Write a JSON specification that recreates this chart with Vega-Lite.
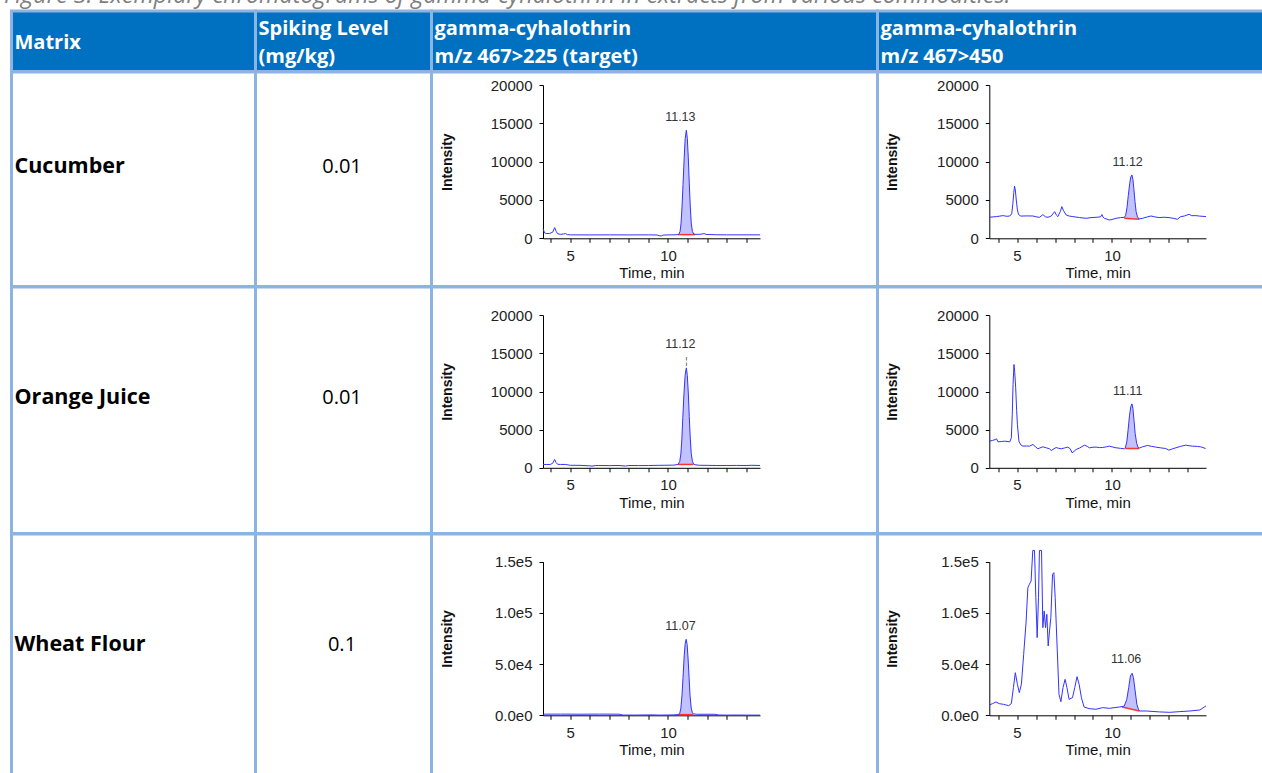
{
"$schema": "https://vega.github.io/schema/vega-lite/v6.json",
"background": "white",
"padding": {"left": 3.5, "top": -17, "right": -15, "bottom": -8},
"title": {"text": "Figure 3: Exemplary chromatograms of gamma-cyhalothrin in extracts from various commodities.", "anchor": "start", "font": "Open Sans", "fontSize": 23.4, "fontStyle": "italic", "fontWeight": "normal", "color": "#7f7f7f", "baseline": "alphabetic", "offset": -16.5, "dx": -6},
"columns": 4,
"align": "each",
"spacing": 0,
"bounds": "flush",
"datasets": {
"header": [
{"c": 1, "h": "Matrix"},
{"c": 2, "h": "Spiking Level\n(mg/kg)"},
{"c": 3, "h": "gamma-cyhalothrin\nm/z 467>225 (target)"},
{"c": 4, "h": "gamma-cyhalothrin\nm/z 467>450"}
],
"table": [
{"r": 1, "m": "Cucumber", "s": "0.01"},
{"r": 2, "m": "Orange Juice", "s": "0.01"},
{"r": 3, "m": "Wheat Flour", "s": "0.1"}
],
"trace": [
{"p":"c3","t":3.61,"v":1250},{"p":"c3","t":3.68,"v":700},{"p":"c3","t":3.8,"v":620},{"p":"c3","t":3.95,"v":640},{"p":"c3","t":4.1,"v":800},{"p":"c3","t":4.2,"v":1400},{"p":"c3","t":4.28,"v":900},{"p":"c3","t":4.35,"v":600},{"p":"c3","t":4.5,"v":520},{"p":"c3","t":4.65,"v":560},{"p":"c3","t":4.75,"v":620},{"p":"c3","t":4.85,"v":480},{"p":"c3","t":5.0,"v":450},{"p":"c3","t":6.0,"v":440},{"p":"c3","t":7.0,"v":450},{"p":"c3","t":8.0,"v":440},{"p":"c3","t":9.0,"v":450},{"p":"c3","t":9.45,"v":430},{"p":"c3","t":9.55,"v":350},{"p":"c3","t":9.65,"v":300},{"p":"c3","t":9.75,"v":420},{"p":"c3","t":10.0,"v":440},{"p":"c3","t":10.3,"v":450},{"p":"c3","t":10.51,"v":480},{"p":"c3","t":10.55,"v":500},{"p":"c3","t":10.62,"v":900},{"p":"c3","t":10.67,"v":2000},{"p":"c3","t":10.72,"v":4200},{"p":"c3","t":10.77,"v":7000},{"p":"c3","t":10.83,"v":10500},{"p":"c3","t":10.88,"v":13000},{"p":"c3","t":10.94,"v":14100},{"p":"c3","t":10.99,"v":13000},{"p":"c3","t":11.04,"v":10500},{"p":"c3","t":11.09,"v":7200},{"p":"c3","t":11.14,"v":4200},{"p":"c3","t":11.19,"v":2000},{"p":"c3","t":11.25,"v":900},{"p":"c3","t":11.32,"v":560},{"p":"c3","t":11.4,"v":520},{"p":"c3","t":11.6,"v":520},{"p":"c3","t":11.75,"v":560},{"p":"c3","t":11.85,"v":620},{"p":"c3","t":11.95,"v":500},{"p":"c3","t":12.5,"v":460},{"p":"c3","t":13.0,"v":450},{"p":"c3","t":14.0,"v":450},{"p":"c3","t":14.71,"v":450},
{"p":"c4","t":3.54,"v":2740},{"p":"c4","t":3.75,"v":2800},{"p":"c4","t":3.92,"v":2830},{"p":"c4","t":4.1,"v":2900},{"p":"c4","t":4.27,"v":2960},{"p":"c4","t":4.45,"v":2870},{"p":"c4","t":4.62,"v":2910},{"p":"c4","t":4.72,"v":3200},{"p":"c4","t":4.78,"v":4500},{"p":"c4","t":4.83,"v":6000},{"p":"c4","t":4.87,"v":6800},{"p":"c4","t":4.91,"v":6300},{"p":"c4","t":4.96,"v":5000},{"p":"c4","t":5.02,"v":3700},{"p":"c4","t":5.08,"v":3100},{"p":"c4","t":5.2,"v":2900},{"p":"c4","t":5.5,"v":2920},{"p":"c4","t":5.84,"v":2910},{"p":"c4","t":6.0,"v":2800},{"p":"c4","t":6.19,"v":2740},{"p":"c4","t":6.36,"v":3090},{"p":"c4","t":6.5,"v":2800},{"p":"c4","t":6.63,"v":2740},{"p":"c4","t":6.8,"v":2900},{"p":"c4","t":6.98,"v":3480},{"p":"c4","t":7.08,"v":3000},{"p":"c4","t":7.15,"v":2830},{"p":"c4","t":7.28,"v":3500},{"p":"c4","t":7.36,"v":4130},{"p":"c4","t":7.45,"v":3600},{"p":"c4","t":7.59,"v":3040},{"p":"c4","t":7.75,"v":2900},{"p":"c4","t":7.94,"v":2830},{"p":"c4","t":8.3,"v":2700},{"p":"c4","t":8.64,"v":2610},{"p":"c4","t":8.9,"v":2700},{"p":"c4","t":9.16,"v":2740},{"p":"c4","t":9.4,"v":2800},{"p":"c4","t":9.47,"v":3100},{"p":"c4","t":9.52,"v":2800},{"p":"c4","t":9.6,"v":2610},{"p":"c4","t":9.86,"v":2390},{"p":"c4","t":10.0,"v":2450},{"p":"c4","t":10.21,"v":2610},{"p":"c4","t":10.45,"v":2700},{"p":"c4","t":10.65,"v":2740},{"p":"c4","t":10.72,"v":3000},{"p":"c4","t":10.79,"v":4000},{"p":"c4","t":10.86,"v":5600},{"p":"c4","t":10.93,"v":7100},{"p":"c4","t":10.99,"v":8000},{"p":"c4","t":11.05,"v":8260},{"p":"c4","t":11.1,"v":7700},{"p":"c4","t":11.15,"v":6500},{"p":"c4","t":11.21,"v":4800},{"p":"c4","t":11.27,"v":3500},{"p":"c4","t":11.34,"v":2800},{"p":"c4","t":11.43,"v":2520},{"p":"c4","t":11.61,"v":2610},{"p":"c4","t":11.8,"v":2750},{"p":"c4","t":12.05,"v":2910},{"p":"c4","t":12.25,"v":2800},{"p":"c4","t":12.48,"v":2700},{"p":"c4","t":12.75,"v":2750},{"p":"c4","t":13.0,"v":2700},{"p":"c4","t":13.25,"v":2600},{"p":"c4","t":13.44,"v":2480},{"p":"c4","t":13.62,"v":2830},{"p":"c4","t":13.8,"v":2900},{"p":"c4","t":14.06,"v":3130},{"p":"c4","t":14.2,"v":2950},{"p":"c4","t":14.41,"v":2960},{"p":"c4","t":14.6,"v":2900},{"p":"c4","t":14.95,"v":2830},
{"p":"o3","t":3.61,"v":440},{"p":"o3","t":3.8,"v":430},{"p":"o3","t":3.98,"v":440},{"p":"o3","t":4.1,"v":600},{"p":"o3","t":4.2,"v":1090},{"p":"o3","t":4.27,"v":700},{"p":"o3","t":4.35,"v":460},{"p":"o3","t":4.5,"v":440},{"p":"o3","t":4.74,"v":440},{"p":"o3","t":5.0,"v":330},{"p":"o3","t":5.5,"v":320},{"p":"o3","t":6.0,"v":260},{"p":"o3","t":6.11,"v":220},{"p":"o3","t":6.3,"v":300},{"p":"o3","t":6.45,"v":300},{"p":"o3","t":7.0,"v":290},{"p":"o3","t":7.5,"v":300},{"p":"o3","t":7.82,"v":230},{"p":"o3","t":8.0,"v":300},{"p":"o3","t":8.5,"v":290},{"p":"o3","t":9.0,"v":300},{"p":"o3","t":9.5,"v":320},{"p":"o3","t":10.0,"v":340},{"p":"o3","t":10.3,"v":350},{"p":"o3","t":10.51,"v":440},{"p":"o3","t":10.6,"v":800},{"p":"o3","t":10.66,"v":1800},{"p":"o3","t":10.71,"v":3800},{"p":"o3","t":10.76,"v":6600},{"p":"o3","t":10.82,"v":9800},{"p":"o3","t":10.88,"v":12200},{"p":"o3","t":10.94,"v":13100},{"p":"o3","t":10.99,"v":12100},{"p":"o3","t":11.04,"v":9800},{"p":"o3","t":11.09,"v":6700},{"p":"o3","t":11.14,"v":3900},{"p":"o3","t":11.19,"v":1900},{"p":"o3","t":11.25,"v":850},{"p":"o3","t":11.31,"v":500},{"p":"o3","t":11.38,"v":400},{"p":"o3","t":11.6,"v":330},{"p":"o3","t":12.0,"v":320},{"p":"o3","t":12.5,"v":300},{"p":"o3","t":13.0,"v":300},{"p":"o3","t":13.5,"v":310},{"p":"o3","t":14.0,"v":300},{"p":"o3","t":14.3,"v":330},{"p":"o3","t":14.71,"v":300},
{"p":"o4","t":3.54,"v":3490},{"p":"o4","t":3.7,"v":3580},{"p":"o4","t":3.85,"v":3700},{"p":"o4","t":3.92,"v":3800},{"p":"o4","t":4.0,"v":3400},{"p":"o4","t":4.2,"v":3450},{"p":"o4","t":4.35,"v":3490},{"p":"o4","t":4.62,"v":3400},{"p":"o4","t":4.7,"v":3930},{"p":"o4","t":4.75,"v":7000},{"p":"o4","t":4.79,"v":10900},{"p":"o4","t":4.84,"v":13540},{"p":"o4","t":4.88,"v":12500},{"p":"o4","t":4.93,"v":10480},{"p":"o4","t":4.98,"v":7500},{"p":"o4","t":5.02,"v":5680},{"p":"o4","t":5.1,"v":3490},{"p":"o4","t":5.2,"v":3000},{"p":"o4","t":5.31,"v":2840},{"p":"o4","t":5.5,"v":2860},{"p":"o4","t":5.66,"v":2840},{"p":"o4","t":5.84,"v":3060},{"p":"o4","t":5.95,"v":2800},{"p":"o4","t":6.1,"v":2490},{"p":"o4","t":6.2,"v":2600},{"p":"o4","t":6.36,"v":2750},{"p":"o4","t":6.54,"v":2620},{"p":"o4","t":6.7,"v":2500},{"p":"o4","t":6.8,"v":2270},{"p":"o4","t":6.95,"v":2500},{"p":"o4","t":7.06,"v":2660},{"p":"o4","t":7.2,"v":2550},{"p":"o4","t":7.33,"v":2490},{"p":"o4","t":7.5,"v":2600},{"p":"o4","t":7.67,"v":2710},{"p":"o4","t":7.8,"v":2500},{"p":"o4","t":7.9,"v":1970},{"p":"o4","t":8.0,"v":2150},{"p":"o4","t":8.11,"v":2400},{"p":"o4","t":8.3,"v":2600},{"p":"o4","t":8.55,"v":2970},{"p":"o4","t":8.7,"v":2800},{"p":"o4","t":8.81,"v":2620},{"p":"o4","t":9.0,"v":2700},{"p":"o4","t":9.16,"v":2710},{"p":"o4","t":9.35,"v":2650},{"p":"o4","t":9.51,"v":2660},{"p":"o4","t":9.7,"v":2750},{"p":"o4","t":9.86,"v":2840},{"p":"o4","t":10.0,"v":2750},{"p":"o4","t":10.21,"v":2620},{"p":"o4","t":10.45,"v":2550},{"p":"o4","t":10.65,"v":2490},{"p":"o4","t":10.7,"v":2600},{"p":"o4","t":10.78,"v":3400},{"p":"o4","t":10.85,"v":5000},{"p":"o4","t":10.92,"v":6800},{"p":"o4","t":10.99,"v":8000},{"p":"o4","t":11.05,"v":8380},{"p":"o4","t":11.1,"v":7800},{"p":"o4","t":11.16,"v":6200},{"p":"o4","t":11.22,"v":4500},{"p":"o4","t":11.3,"v":3200},{"p":"o4","t":11.38,"v":2650},{"p":"o4","t":11.45,"v":2600},{"p":"o4","t":11.61,"v":2750},{"p":"o4","t":11.87,"v":2930},{"p":"o4","t":12.1,"v":2800},{"p":"o4","t":12.31,"v":2710},{"p":"o4","t":12.6,"v":2600},{"p":"o4","t":12.83,"v":2530},{"p":"o4","t":13.0,"v":2310},{"p":"o4","t":13.2,"v":2500},{"p":"o4","t":13.36,"v":2620},{"p":"o4","t":13.6,"v":2800},{"p":"o4","t":13.88,"v":2970},{"p":"o4","t":14.05,"v":2900},{"p":"o4","t":14.23,"v":2840},{"p":"o4","t":14.5,"v":2800},{"p":"o4","t":14.67,"v":2750},{"p":"o4","t":14.93,"v":2530},
{"p":"w3","t":3.61,"v":1100},{"p":"w3","t":4.5,"v":1150},{"p":"w3","t":5.5,"v":1050},{"p":"w3","t":6.5,"v":1150},{"p":"w3","t":7.5,"v":1100},{"p":"w3","t":7.6,"v":600},{"p":"w3","t":7.7,"v":200},{"p":"w3","t":8.0,"v":250},{"p":"w3","t":8.3,"v":200},{"p":"w3","t":8.7,"v":300},{"p":"w3","t":9.2,"v":400},{"p":"w3","t":9.4,"v":300},{"p":"w3","t":9.6,"v":200},{"p":"w3","t":10.0,"v":300},{"p":"w3","t":10.3,"v":400},{"p":"w3","t":10.52,"v":700},{"p":"w3","t":10.6,"v":1500},{"p":"w3","t":10.66,"v":7000},{"p":"w3","t":10.72,"v":20000},{"p":"w3","t":10.77,"v":37000},{"p":"w3","t":10.83,"v":58000},{"p":"w3","t":10.88,"v":70000},{"p":"w3","t":10.93,"v":74200},{"p":"w3","t":10.98,"v":69000},{"p":"w3","t":11.03,"v":55000},{"p":"w3","t":11.08,"v":37000},{"p":"w3","t":11.13,"v":19000},{"p":"w3","t":11.19,"v":7000},{"p":"w3","t":11.25,"v":2500},{"p":"w3","t":11.3,"v":1300},{"p":"w3","t":11.5,"v":1000},{"p":"w3","t":12.0,"v":1000},{"p":"w3","t":12.4,"v":1000},{"p":"w3","t":12.6,"v":300},{"p":"w3","t":13.0,"v":200},{"p":"w3","t":13.5,"v":250},{"p":"w3","t":14.0,"v":200},{"p":"w3","t":14.71,"v":200},
{"p":"w4","t":3.54,"v":10100},{"p":"w4","t":3.71,"v":11400},{"p":"w4","t":3.89,"v":13000},{"p":"w4","t":4.06,"v":11400},{"p":"w4","t":4.29,"v":10700},{"p":"w4","t":4.56,"v":9400},{"p":"w4","t":4.7,"v":11400},{"p":"w4","t":4.81,"v":27000},{"p":"w4","t":4.91,"v":41600},{"p":"w4","t":5.02,"v":30300},{"p":"w4","t":5.12,"v":22100},{"p":"w4","t":5.23,"v":30300},{"p":"w4","t":5.35,"v":59500},{"p":"w4","t":5.48,"v":92100},{"p":"w4","t":5.57,"v":124600},{"p":"w4","t":5.65,"v":127900},{"p":"w4","t":5.74,"v":131100},{"p":"w4","t":5.83,"v":161000},{"p":"w4","t":5.92,"v":161000},{"p":"w4","t":5.99,"v":114900},{"p":"w4","t":6.06,"v":75800},{"p":"w4","t":6.13,"v":114900},{"p":"w4","t":6.18,"v":161000},{"p":"w4","t":6.29,"v":161000},{"p":"w4","t":6.36,"v":85600},{"p":"w4","t":6.43,"v":101900},{"p":"w4","t":6.5,"v":85600},{"p":"w4","t":6.57,"v":98600},{"p":"w4","t":6.64,"v":67700},{"p":"w4","t":6.71,"v":82300},{"p":"w4","t":6.78,"v":95300},{"p":"w4","t":6.87,"v":137600},{"p":"w4","t":6.94,"v":139300},{"p":"w4","t":7.01,"v":114900},{"p":"w4","t":7.12,"v":62800},{"p":"w4","t":7.21,"v":20500},{"p":"w4","t":7.31,"v":13300},{"p":"w4","t":7.42,"v":27000},{"p":"w4","t":7.53,"v":35100},{"p":"w4","t":7.63,"v":27000},{"p":"w4","t":7.74,"v":15600},{"p":"w4","t":7.92,"v":17200},{"p":"w4","t":8.04,"v":27000},{"p":"w4","t":8.16,"v":37700},{"p":"w4","t":8.27,"v":30300},{"p":"w4","t":8.39,"v":17200},{"p":"w4","t":8.53,"v":8100},{"p":"w4","t":8.8,"v":6500},{"p":"w4","t":9.15,"v":5900},{"p":"w4","t":9.51,"v":7500},{"p":"w4","t":9.86,"v":6800},{"p":"w4","t":10.39,"v":8100},{"p":"w4","t":10.53,"v":8500},{"p":"w4","t":10.65,"v":9100},{"p":"w4","t":10.78,"v":15600},{"p":"w4","t":10.88,"v":27000},{"p":"w4","t":10.97,"v":38400},{"p":"w4","t":11.06,"v":41000},{"p":"w4","t":11.13,"v":36800},{"p":"w4","t":11.22,"v":23800},{"p":"w4","t":11.31,"v":10700},{"p":"w4","t":11.4,"v":5500},{"p":"w4","t":11.45,"v":4200},{"p":"w4","t":11.8,"v":4200},{"p":"w4","t":12.51,"v":3300},{"p":"w4","t":13.04,"v":2900},{"p":"w4","t":13.57,"v":3600},{"p":"w4","t":14.1,"v":4200},{"p":"w4","t":14.63,"v":5200},{"p":"w4","t":14.89,"v":8500},{"p":"w4","t":14.95,"v":9200}
],
"peak": [
{"p":"c3","t":10.51,"v":480,"b":480},{"p":"c3","t":10.55,"v":500,"b":480},{"p":"c3","t":10.62,"v":900,"b":480},{"p":"c3","t":10.67,"v":2000,"b":480},{"p":"c3","t":10.72,"v":4200,"b":480},{"p":"c3","t":10.77,"v":7000,"b":480},{"p":"c3","t":10.83,"v":10500,"b":480},{"p":"c3","t":10.88,"v":13000,"b":480},{"p":"c3","t":10.94,"v":14100,"b":480},{"p":"c3","t":10.99,"v":13000,"b":480},{"p":"c3","t":11.04,"v":10500,"b":480},{"p":"c3","t":11.09,"v":7200,"b":480},{"p":"c3","t":11.14,"v":4200,"b":480},{"p":"c3","t":11.19,"v":2000,"b":480},{"p":"c3","t":11.25,"v":900,"b":480},{"p":"c3","t":11.32,"v":560,"b":480},{"p":"c3","t":11.4,"v":520,"b":480},
{"p":"c4","t":10.65,"v":2740,"b":2610},{"p":"c4","t":10.72,"v":3000,"b":2600},{"p":"c4","t":10.79,"v":4000,"b":2590},{"p":"c4","t":10.86,"v":5600,"b":2575},{"p":"c4","t":10.93,"v":7100,"b":2565},{"p":"c4","t":10.99,"v":8000,"b":2555},{"p":"c4","t":11.05,"v":8260,"b":2545},{"p":"c4","t":11.1,"v":7700,"b":2535},{"p":"c4","t":11.15,"v":6500,"b":2525},{"p":"c4","t":11.21,"v":4800,"b":2515},{"p":"c4","t":11.27,"v":3500,"b":2505},{"p":"c4","t":11.34,"v":2800,"b":2495},{"p":"c4","t":11.43,"v":2520,"b":2480},
{"p":"o3","t":10.51,"v":440,"b":440},{"p":"o3","t":10.6,"v":800,"b":440},{"p":"o3","t":10.66,"v":1800,"b":440},{"p":"o3","t":10.71,"v":3800,"b":440},{"p":"o3","t":10.76,"v":6600,"b":440},{"p":"o3","t":10.82,"v":9800,"b":440},{"p":"o3","t":10.88,"v":12200,"b":440},{"p":"o3","t":10.94,"v":13100,"b":440},{"p":"o3","t":10.99,"v":12100,"b":440},{"p":"o3","t":11.04,"v":9800,"b":440},{"p":"o3","t":11.09,"v":6700,"b":440},{"p":"o3","t":11.14,"v":3900,"b":440},{"p":"o3","t":11.19,"v":1900,"b":440},{"p":"o3","t":11.25,"v":850,"b":440},{"p":"o3","t":11.31,"v":500,"b":440},
{"p":"o4","t":10.7,"v":2600,"b":2530},{"p":"o4","t":10.78,"v":3400,"b":2530},{"p":"o4","t":10.85,"v":5000,"b":2530},{"p":"o4","t":10.92,"v":6800,"b":2530},{"p":"o4","t":10.99,"v":8000,"b":2530},{"p":"o4","t":11.05,"v":8380,"b":2530},{"p":"o4","t":11.1,"v":7800,"b":2530},{"p":"o4","t":11.16,"v":6200,"b":2530},{"p":"o4","t":11.22,"v":4500,"b":2530},{"p":"o4","t":11.3,"v":3200,"b":2530},{"p":"o4","t":11.38,"v":2650,"b":2530},{"p":"o4","t":11.43,"v":2600,"b":2530},
{"p":"w3","t":10.52,"v":700,"b":650},{"p":"w3","t":10.6,"v":1500,"b":650},{"p":"w3","t":10.66,"v":7000,"b":650},{"p":"w3","t":10.72,"v":20000,"b":650},{"p":"w3","t":10.77,"v":37000,"b":650},{"p":"w3","t":10.83,"v":58000,"b":650},{"p":"w3","t":10.88,"v":70000,"b":650},{"p":"w3","t":10.93,"v":74200,"b":650},{"p":"w3","t":10.98,"v":69000,"b":650},{"p":"w3","t":11.03,"v":55000,"b":650},{"p":"w3","t":11.08,"v":37000,"b":650},{"p":"w3","t":11.13,"v":19000,"b":650},{"p":"w3","t":11.19,"v":7000,"b":650},{"p":"w3","t":11.25,"v":2500,"b":650},{"p":"w3","t":11.3,"v":1300,"b":650},
{"p":"w4","t":10.53,"v":8500,"b":8100},{"p":"w4","t":10.65,"v":9100,"b":7600},{"p":"w4","t":10.78,"v":15600,"b":7040},{"p":"w4","t":10.88,"v":27000,"b":6620},{"p":"w4","t":10.97,"v":38400,"b":6230},{"p":"w4","t":11.06,"v":41000,"b":5850},{"p":"w4","t":11.13,"v":36800,"b":5550},{"p":"w4","t":11.22,"v":23800,"b":5170},{"p":"w4","t":11.31,"v":10700,"b":4780},{"p":"w4","t":11.4,"v":5500,"b":4400},{"p":"w4","t":11.45,"v":4200,"b":4200}
],
"base": [
{"p":"c3","t":10.51,"v":480},{"p":"c3","t":11.4,"v":480},
{"p":"c4","t":10.65,"v":2610},{"p":"c4","t":11.43,"v":2480},
{"p":"o3","t":10.51,"v":440},{"p":"o3","t":11.31,"v":440},
{"p":"o4","t":10.7,"v":2530},{"p":"o4","t":11.43,"v":2530},
{"p":"w3","t":10.52,"v":650},{"p":"w3","t":11.3,"v":650},
{"p":"w4","t":10.53,"v":8100},{"p":"w4","t":11.45,"v":4200}
],
"labels": [
{"p":"c3","t":10.94,"v":14100,"rt":"11.13"},
{"p":"c4","t":11.05,"v":8260,"rt":"11.12"},
{"p":"o3","t":10.94,"v":13100,"rt":"11.12"},
{"p":"o4","t":11.05,"v":8380,"rt":"11.11"},
{"p":"w3","t":10.93,"v":74200,"rt":"11.07"},
{"p":"w4","t":11.06,"v":41000,"rt":"11.06"}
]
},
"concat": [
{"width": 244, "height": 60.5, "view": {"fill": "#0070c0", "stroke": "#8db3e2", "strokeWidth": 3}, "data": {"name": "header"}, "transform": [{"filter": "datum.c == 1"}], "mark": {"type": "text", "align": "left", "baseline": "alphabetic", "font": "Open Sans", "fontSize": 20, "fontWeight": "bold", "color": "white", "dx": 3, "dy": 7.5, "lineBreak": "\n", "lineHeight": 28}, "encoding": {"x": {"datum": 0, "type": "quantitative", "scale": {"domain": [0, 1]}, "axis": null}, "text": {"field": "h"}}},
{"width": 176, "height": 60.5, "view": {"fill": "#0070c0", "stroke": "#8db3e2", "strokeWidth": 3}, "data": {"name": "header"}, "transform": [{"filter": "datum.c == 2"}], "mark": {"type": "text", "align": "left", "baseline": "alphabetic", "font": "Open Sans", "fontSize": 20, "fontWeight": "bold", "color": "white", "dx": 3, "dy": -6.75, "lineBreak": "\n", "lineHeight": 28}, "encoding": {"x": {"datum": 0, "type": "quantitative", "scale": {"domain": [0, 1]}, "axis": null}, "text": {"field": "h"}}},
{"width": 446, "height": 60.5, "view": {"fill": "#0070c0", "stroke": "#8db3e2", "strokeWidth": 3}, "data": {"name": "header"}, "transform": [{"filter": "datum.c == 3"}], "mark": {"type": "text", "align": "left", "baseline": "alphabetic", "font": "Open Sans", "fontSize": 20, "fontWeight": "bold", "color": "white", "dx": 3, "dy": -6.75, "lineBreak": "\n", "lineHeight": 28}, "encoding": {"x": {"datum": 0, "type": "quantitative", "scale": {"domain": [0, 1]}, "axis": null}, "text": {"field": "h"}}},
{"width": 400, "height": 60.5, "view": {"fill": "#0070c0", "stroke": "#8db3e2", "strokeWidth": 3}, "data": {"name": "header"}, "transform": [{"filter": "datum.c == 4"}], "mark": {"type": "text", "align": "left", "baseline": "alphabetic", "font": "Open Sans", "fontSize": 20, "fontWeight": "bold", "color": "white", "dx": 3, "dy": -6.75, "lineBreak": "\n", "lineHeight": 28}, "encoding": {"x": {"datum": 0, "type": "quantitative", "scale": {"domain": [0, 1]}, "axis": null}, "text": {"field": "h"}}},

{"width": 244, "height": 214.5, "view": {"fill": "white", "stroke": "#8db3e2", "strokeWidth": 3}, "data": {"name": "table"}, "transform": [{"filter": "datum.r == 1"}], "mark": {"type": "text", "align": "left", "baseline": "middle", "font": "Open Sans", "fontSize": 21.5, "fontWeight": "bold", "color": "black", "dx": 3, "dy": -12.5}, "encoding": {"x": {"datum": 0, "type": "quantitative", "scale": {"domain": [0, 1]}, "axis": null}, "text": {"field": "m"}}},
{"width": 176, "height": 214.5, "view": {"fill": "white", "stroke": "#8db3e2", "strokeWidth": 3}, "data": {"name": "table"}, "transform": [{"filter": "datum.r == 1"}], "mark": {"type": "text", "align": "center", "baseline": "middle", "font": "Open Sans", "fontSize": 20, "color": "black", "dx": -1.5, "dy": -12.5}, "encoding": {"text": {"field": "s"}}},
{"width": 446, "height": 214.5, "view": {"fill": "white", "stroke": "#8db3e2", "strokeWidth": 3},
 "encoding": {
  "x": {"field": "t", "type": "quantitative", "scale": {"domain": [3.603, 14.71], "range": [111.5, 328.5], "nice": false, "zero": false}, "axis": {"values": [4,5,6,7,8,9,10,11,12,13,14], "labelExpr": "datum.value == 5 || datum.value == 10 ? datum.label : ''", "offset": -48.2, "title": "Time, min", "titleY": 34.5, "titleBaseline": "middle", "titleFontWeight": "normal", "titleFontSize": 15, "labelPadding": 6}},
  "y": {"field": "v", "type": "quantitative", "scale": {"domain": [0, 20000], "range": [166.3, 13], "nice": false, "zero": false}, "axis": {"values": [0,5000,10000,15000,20000], "format": "d", "offset": -111.5, "title": "Intensity", "titleX": -96, "titleY": 89.7, "titleBaseline": "middle", "titleFontWeight": "bold", "titleFontSize": 14, "labelPadding": 7}}
 },
 "layer": [
  {"data": {"name": "peak"}, "transform": [{"filter": "datum.p == 'c3'"}], "mark": {"type": "area", "fill": "#6666ff", "fillOpacity": 0.4}, "encoding": {"y2": {"field": "b"}}},
  {"data": {"name": "base"}, "transform": [{"filter": "datum.p == 'c3'"}], "mark": {"type": "line", "color": "#ff3333", "strokeWidth": 1.5}},
  {"data": {"name": "trace"}, "transform": [{"filter": "datum.p == 'c3'"}], "mark": {"type": "line", "color": "#3333ff", "strokeWidth": 1}},
  {"data": {"name": "labels"}, "transform": [{"filter": "datum.p == 'c3'"}], "mark": {"type": "text", "font": "Liberation Sans", "fontSize": 12.5, "color": "#333", "baseline": "alphabetic", "dx": -6, "dy": -9.3}, "encoding": {"text": {"field": "rt"}}}
 ]},
{"width": 400, "height": 214.5, "view": {"fill": "white", "stroke": "#8db3e2", "strokeWidth": 3},
 "encoding": {
  "x": {"field": "t", "type": "quantitative", "scale": {"domain": [3.54, 14.95], "range": [111.8, 328.5], "nice": false, "zero": false}, "axis": {"values": [4,5,6,7,8,9,10,11,12,13,14], "labelExpr": "datum.value == 5 || datum.value == 10 ? datum.label : ''", "offset": -48.2, "title": "Time, min", "titleY": 34.5, "titleBaseline": "middle", "titleFontWeight": "normal", "titleFontSize": 15, "labelPadding": 6}},
  "y": {"field": "v", "type": "quantitative", "scale": {"domain": [0, 20000], "range": [166.3, 13], "nice": false, "zero": false}, "axis": {"values": [0,5000,10000,15000,20000], "format": "d", "offset": -111.8, "title": "Intensity", "titleX": -96.6, "titleY": 89.7, "titleBaseline": "middle", "titleFontWeight": "bold", "titleFontSize": 14, "labelPadding": 7}}
 },
 "layer": [
  {"data": {"name": "peak"}, "transform": [{"filter": "datum.p == 'c4'"}], "mark": {"type": "area", "fill": "#6666ff", "fillOpacity": 0.4}, "encoding": {"y2": {"field": "b"}}},
  {"data": {"name": "base"}, "transform": [{"filter": "datum.p == 'c4'"}], "mark": {"type": "line", "color": "#ff3333", "strokeWidth": 1.5}},
  {"data": {"name": "trace"}, "transform": [{"filter": "datum.p == 'c4'"}], "mark": {"type": "line", "color": "#3333ff", "strokeWidth": 1}},
  {"data": {"name": "labels"}, "transform": [{"filter": "datum.p == 'c4'"}], "mark": {"type": "text", "font": "Liberation Sans", "fontSize": 12.5, "color": "#333", "baseline": "alphabetic", "dx": -4.3, "dy": -9.3}, "encoding": {"text": {"field": "rt"}}}
 ]},

{"width": 244, "height": 246.5, "view": {"fill": "white", "stroke": "#8db3e2", "strokeWidth": 3}, "data": {"name": "table"}, "transform": [{"filter": "datum.r == 2"}], "mark": {"type": "text", "align": "left", "baseline": "middle", "font": "Open Sans", "fontSize": 21.5, "fontWeight": "bold", "color": "black", "dx": 3, "dy": -12.5}, "encoding": {"x": {"datum": 0, "type": "quantitative", "scale": {"domain": [0, 1]}, "axis": null}, "text": {"field": "m"}}},
{"width": 176, "height": 246.5, "view": {"fill": "white", "stroke": "#8db3e2", "strokeWidth": 3}, "data": {"name": "table"}, "transform": [{"filter": "datum.r == 2"}], "mark": {"type": "text", "align": "center", "baseline": "middle", "font": "Open Sans", "fontSize": 20, "color": "black", "dx": -1.5, "dy": -12.5}, "encoding": {"text": {"field": "s"}}},
{"width": 446, "height": 246.5, "view": {"fill": "white", "stroke": "#8db3e2", "strokeWidth": 3},
 "encoding": {
  "x": {"field": "t", "type": "quantitative", "scale": {"domain": [3.603, 14.71], "range": [111.5, 328.5], "nice": false, "zero": false}, "axis": {"values": [4,5,6,7,8,9,10,11,12,13,14], "labelExpr": "datum.value == 5 || datum.value == 10 ? datum.label : ''", "offset": -65.7, "title": "Time, min", "titleY": 34.5, "titleBaseline": "middle", "titleFontWeight": "normal", "titleFontSize": 15, "labelPadding": 6}},
  "y": {"field": "v", "type": "quantitative", "scale": {"domain": [0, 20000], "range": [180.8, 28.2], "nice": false, "zero": false}, "axis": {"values": [0,5000,10000,15000,20000], "format": "d", "offset": -111.5, "title": "Intensity", "titleX": -96, "titleY": 104.5, "titleBaseline": "middle", "titleFontWeight": "bold", "titleFontSize": 14, "labelPadding": 7}}
 },
 "layer": [
  {"data": {"name": "peak"}, "transform": [{"filter": "datum.p == 'o3'"}], "mark": {"type": "area", "fill": "#6666ff", "fillOpacity": 0.4}, "encoding": {"y2": {"field": "b"}}},
  {"data": {"name": "base"}, "transform": [{"filter": "datum.p == 'o3'"}], "mark": {"type": "line", "color": "#ff3333", "strokeWidth": 1.5}},
  {"data": {"name": "trace"}, "transform": [{"filter": "datum.p == 'o3'"}], "mark": {"type": "line", "color": "#3333ff", "strokeWidth": 1}},
  {"data": {"name": "labels"}, "transform": [{"filter": "datum.p == 'o3'"}], "mark": {"type": "text", "font": "Liberation Sans", "fontSize": 9, "color": "#444", "baseline": "alphabetic", "dy": -4, "text": "¦"}},
  {"data": {"name": "labels"}, "transform": [{"filter": "datum.p == 'o3'"}], "mark": {"type": "text", "font": "Liberation Sans", "fontSize": 12.5, "color": "#333", "baseline": "alphabetic", "dx": -6, "dy": -20}, "encoding": {"text": {"field": "rt"}}}
 ]},
{"width": 400, "height": 246.5, "view": {"fill": "white", "stroke": "#8db3e2", "strokeWidth": 3},
 "encoding": {
  "x": {"field": "t", "type": "quantitative", "scale": {"domain": [3.54, 14.95], "range": [111.8, 328.5], "nice": false, "zero": false}, "axis": {"values": [4,5,6,7,8,9,10,11,12,13,14], "labelExpr": "datum.value == 5 || datum.value == 10 ? datum.label : ''", "offset": -65.7, "title": "Time, min", "titleY": 34.5, "titleBaseline": "middle", "titleFontWeight": "normal", "titleFontSize": 15, "labelPadding": 6}},
  "y": {"field": "v", "type": "quantitative", "scale": {"domain": [0, 20000], "range": [180.8, 28.2], "nice": false, "zero": false}, "axis": {"values": [0,5000,10000,15000,20000], "format": "d", "offset": -111.8, "title": "Intensity", "titleX": -96.6, "titleY": 104.5, "titleBaseline": "middle", "titleFontWeight": "bold", "titleFontSize": 14, "labelPadding": 7}}
 },
 "layer": [
  {"data": {"name": "peak"}, "transform": [{"filter": "datum.p == 'o4'"}], "mark": {"type": "area", "fill": "#6666ff", "fillOpacity": 0.4}, "encoding": {"y2": {"field": "b"}}},
  {"data": {"name": "base"}, "transform": [{"filter": "datum.p == 'o4'"}], "mark": {"type": "line", "color": "#ff3333", "strokeWidth": 1.5}},
  {"data": {"name": "trace"}, "transform": [{"filter": "datum.p == 'o4'"}], "mark": {"type": "line", "color": "#3333ff", "strokeWidth": 1}},
  {"data": {"name": "labels"}, "transform": [{"filter": "datum.p == 'o4'"}], "mark": {"type": "text", "font": "Liberation Sans", "fontSize": 12.5, "color": "#333", "baseline": "alphabetic", "dx": -4.3, "dy": -8.7}, "encoding": {"text": {"field": "rt"}}}
 ]},

{"width": 244, "height": 246, "view": {"fill": "white", "stroke": "#8db3e2", "strokeWidth": 3}, "data": {"name": "table"}, "transform": [{"filter": "datum.r == 3"}], "mark": {"type": "text", "align": "left", "baseline": "middle", "font": "Open Sans", "fontSize": 21.5, "fontWeight": "bold", "color": "black", "dx": 3, "dy": -12.5}, "encoding": {"x": {"datum": 0, "type": "quantitative", "scale": {"domain": [0, 1]}, "axis": null}, "text": {"field": "m"}}},
{"width": 176, "height": 246, "view": {"fill": "white", "stroke": "#8db3e2", "strokeWidth": 3}, "data": {"name": "table"}, "transform": [{"filter": "datum.r == 3"}], "mark": {"type": "text", "align": "center", "baseline": "middle", "font": "Open Sans", "fontSize": 20, "color": "black", "dx": -1.5, "dy": -12.5}, "encoding": {"text": {"field": "s"}}},
{"width": 446, "height": 246, "view": {"fill": "white", "stroke": "#8db3e2", "strokeWidth": 3},
 "encoding": {
  "x": {"field": "t", "type": "quantitative", "scale": {"domain": [3.603, 14.71], "range": [111.5, 328.5], "nice": false, "zero": false}, "axis": {"values": [4,5,6,7,8,9,10,11,12,13,14], "labelExpr": "datum.value == 5 || datum.value == 10 ? datum.label : ''", "offset": -64.7, "title": "Time, min", "titleY": 34.5, "titleBaseline": "middle", "titleFontWeight": "normal", "titleFontSize": 15, "labelPadding": 6}},
  "y": {"field": "v", "type": "quantitative", "scale": {"domain": [0, 150000], "range": [181.3, 27.7], "nice": false, "zero": false}, "axis": {"values": [0,50000,100000,150000], "labelExpr": "replace(format(datum.value, '.1e'), '+', '')", "offset": -111.5, "title": "Intensity", "titleX": -96, "titleY": 104.5, "titleBaseline": "middle", "titleFontWeight": "bold", "titleFontSize": 14, "labelPadding": 7}}
 },
 "layer": [
  {"data": {"name": "peak"}, "transform": [{"filter": "datum.p == 'w3'"}], "mark": {"type": "area", "fill": "#6666ff", "fillOpacity": 0.4}, "encoding": {"y2": {"field": "b"}}},
  {"data": {"name": "base"}, "transform": [{"filter": "datum.p == 'w3'"}], "mark": {"type": "line", "color": "#ff3333", "strokeWidth": 1.5}},
  {"data": {"name": "trace"}, "transform": [{"filter": "datum.p == 'w3'"}], "mark": {"type": "line", "color": "#3333ff", "strokeWidth": 1}},
  {"data": {"name": "labels"}, "transform": [{"filter": "datum.p == 'w3'"}], "mark": {"type": "text", "font": "Liberation Sans", "fontSize": 12.5, "color": "#333", "baseline": "alphabetic", "dx": -5.7, "dy": -9}, "encoding": {"text": {"field": "rt"}}}
 ]},
{"width": 400, "height": 246, "view": {"fill": "white", "stroke": "#8db3e2", "strokeWidth": 3},
 "encoding": {
  "x": {"field": "t", "type": "quantitative", "scale": {"domain": [3.54, 14.95], "range": [111.8, 328.5], "nice": false, "zero": false}, "axis": {"values": [4,5,6,7,8,9,10,11,12,13,14], "labelExpr": "datum.value == 5 || datum.value == 10 ? datum.label : ''", "offset": -64.7, "title": "Time, min", "titleY": 34.5, "titleBaseline": "middle", "titleFontWeight": "normal", "titleFontSize": 15, "labelPadding": 6}},
  "y": {"field": "v", "type": "quantitative", "scale": {"domain": [0, 150000], "range": [181.3, 27.7], "nice": false, "zero": false}, "axis": {"values": [0,50000,100000,150000], "labelExpr": "replace(format(datum.value, '.1e'), '+', '')", "offset": -111.8, "title": "Intensity", "titleX": -96.6, "titleY": 104.5, "titleBaseline": "middle", "titleFontWeight": "bold", "titleFontSize": 14, "labelPadding": 7}}
 },
 "layer": [
  {"data": {"name": "peak"}, "transform": [{"filter": "datum.p == 'w4'"}], "mark": {"type": "area", "fill": "#6666ff", "fillOpacity": 0.4}, "encoding": {"y2": {"field": "b"}}},
  {"data": {"name": "base"}, "transform": [{"filter": "datum.p == 'w4'"}], "mark": {"type": "line", "color": "#ff3333", "strokeWidth": 1.5}},
  {"data": {"name": "trace"}, "transform": [{"filter": "datum.p == 'w4'"}], "mark": {"type": "line", "color": "#3333ff", "strokeWidth": 1}},
  {"data": {"name": "labels"}, "transform": [{"filter": "datum.p == 'w4'"}], "mark": {"type": "text", "font": "Liberation Sans", "fontSize": 12.5, "color": "#333", "baseline": "alphabetic", "dx": -6, "dy": -10}, "encoding": {"text": {"field": "rt"}}}
 ]}
],
"config": {
 "view": {"stroke": null},
 "axis": {"grid": false, "domainColor": "#000", "domainWidth": 1, "tickColor": "#000", "tickWidth": 1, "tickSize": 4, "labelFont": "Liberation Sans", "labelFontSize": 15, "labelColor": "#222", "titleFont": "Liberation Sans", "titleColor": "#111", "labelFlush": false, "labelOverlap": false}
}
}
